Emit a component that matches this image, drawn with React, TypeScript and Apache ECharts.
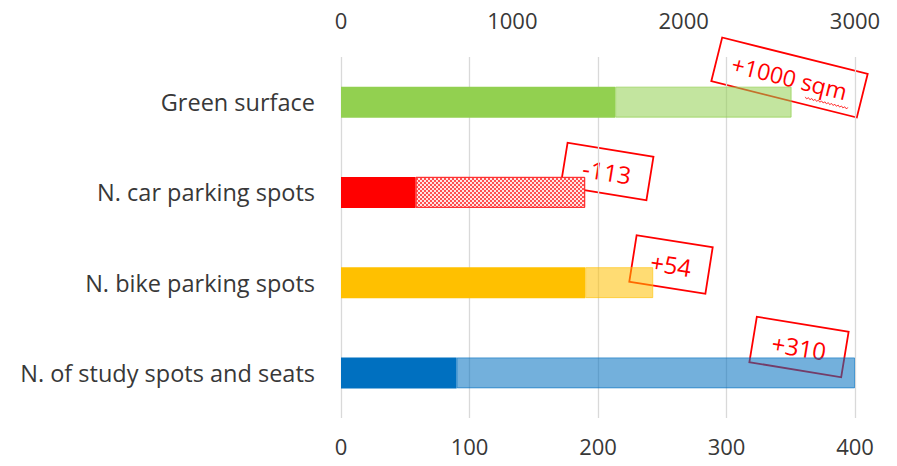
import React, { useEffect, useRef } from "react";
import * as echarts from "echarts";

const categories = [
  "Green surface",
  "N. car parking spots",
  "N. bike parking spots",
  "N. of study spots and seats",
];
// Green surface is read on the top axis (sqm); the others on the bottom axis (count)
const currentValues = [1600, 58, 190, 90];
const changeValues = [1030, 132, 53, 310];
const changeLabels = ["+1000 sqm", "-113", "+54", "+310"];
const usesTopAxis = [true, false, false, false];
const bottomTicks = { min: 0, max: 400, interval: 100 };
const topTicks = { min: 0, max: 3000, interval: 1000 };

const darkColors = ["#92d050", "#ff0000", "#ffc000", "#0070c0"];
const lightColors = [
  "rgba(146,208,80,0.55)",
  null,
  "rgba(255,192,0,0.55)",
  "rgba(0,112,192,0.55)",
];
const lightBorders = [
  "rgba(146,208,80,0.7)",
  "#ff3030",
  "rgba(255,192,0,0.6)",
  "rgba(0,112,192,0.6)",
];

// annotation boxes: center x, center y, angle (deg, clockwise), width, height
const boxes = [
  [789.5, 77.5, 14, 150, 45],
  [607, 171.5, 9.2, 87, 44],
  [671, 264.5, 9, 77, 47],
  [799, 347, 9.3, 93, 46],
];
const boxFontSizes = [23, 24, 24, 24];

const FONT = "'Open Sans', 'Noto Sans', sans-serif";
const TEXT = "#383838";

export default function App() {
  const ref = useRef<HTMLDivElement>(null);
  useEffect(() => {
    if (!ref.current) return;
    const chart = echarts.init(ref.current, null, { renderer: "svg" });

    const baseItem = (i: number, onTop: boolean) =>
      usesTopAxis[i] === onTop
        ? { value: currentValues[i], itemStyle: { color: darkColors[i] } }
        : "-";
    const addItem = (i: number, onTop: boolean) => {
      if (usesTopAxis[i] !== onTop) return "-";
      if (lightColors[i] === null) {
        return {
          value: changeValues[i],
          itemStyle: {
            color: "#ffe6e6",
            borderColor: lightBorders[i],
            borderWidth: 1,
            decal: {
              symbol: "rect",
              symbolSize: 1,
              color: "#ff5050",
              dashArrayX: [
                [2, 2],
                [0, 2, 2, 0],
              ],
              dashArrayY: [2, 0],
            },
          },
        };
      }
      return {
        value: changeValues[i],
        itemStyle: {
          color: lightColors[i],
          borderColor: lightBorders[i],
          borderWidth: 1,
        },
      };
    };

    const idx = categories.map((_, i) => i);

    const graphics: any[] = boxes.map((b, i) => {
      const [cx, cy, ang, w, h] = b;
      const children: any[] = [
        {
          type: "rect",
          shape: { x: -w / 2, y: -h / 2, width: w, height: h },
          style: { fill: "#ffffff", stroke: "#ff0000", lineWidth: 1.8 },
        },
        {
          type: "text",
          x: 0,
          y: 0,
          style: {
            text: changeLabels[i],
            fill: "#ff0000",
            font: `${boxFontSizes[i]}px ${FONT}`,
            align: "center",
            verticalAlign: "middle",
            textAlign: "center",
            textVerticalAlign: "middle",
          },
        },
      ];
      if (i === 0) {
        const pts: number[][] = [];
        for (let k = 0; k <= 26; k++) {
          pts.push([20 + k * 1.7, 15 + (k % 2 === 0 ? 0 : 1.6)]);
        }
        children.push({
          type: "polyline",
          shape: { points: pts },
          style: { stroke: "#ff0000", lineWidth: 0.7, fill: null },
        });
      }
      return {
        type: "group",
        x: cx,
        y: cy,
        rotation: (-ang * Math.PI) / 180,
        z: 100,
        children,
      };
    });

    const plain = (v: number) => String(v);

    chart.setOption({
      animation: false,
      backgroundColor: "#ffffff",
      grid: { left: 341, right: 42, top: 57, bottom: 48 },
      xAxis: [
        {
          type: "value",
          position: "bottom",
          min: bottomTicks.min,
          max: bottomTicks.max,
          interval: bottomTicks.interval,
          axisLine: { show: false },
          axisTick: { show: false },
          splitLine: { show: true, lineStyle: { color: "#d9d9d9", width: 1.3 } },
          axisLabel: {
            color: TEXT,
            fontSize: 22,
            fontFamily: FONT,
            margin: 17,
            formatter: plain,
          },
        },
        {
          type: "value",
          position: "top",
          min: topTicks.min,
          max: topTicks.max,
          interval: topTicks.interval,
          axisLine: { show: false },
          axisTick: { show: false },
          splitLine: { show: false },
          axisLabel: {
            color: TEXT,
            fontSize: 22,
            fontFamily: FONT,
            margin: 26,
            formatter: plain,
          },
        },
      ],
      yAxis: {
        type: "category",
        inverse: true,
        data: categories,
        axisLine: { show: false },
        axisTick: { show: false },
        axisLabel: {
          color: TEXT,
          fontSize: 23.5,
          fontFamily: FONT,
          margin: 26,
        },
      },
      graphic: graphics,
      series: [
        {
          type: "bar",
          name: "current",
          stack: "bottom",
          xAxisIndex: 0,
          barWidth: 31,
          barGap: "-100%",
          data: idx.map((i) => baseItem(i, false)),
        },
        {
          type: "bar",
          name: "change",
          stack: "bottom",
          xAxisIndex: 0,
          barWidth: 31,
          barGap: "-100%",
          data: idx.map((i) => addItem(i, false)),
        },
        {
          type: "bar",
          name: "current sqm",
          stack: "top",
          xAxisIndex: 1,
          barWidth: 31,
          barGap: "-100%",
          data: idx.map((i) => baseItem(i, true)),
        },
        {
          type: "bar",
          name: "change sqm",
          stack: "top",
          xAxisIndex: 1,
          barWidth: 31,
          barGap: "-100%",
          data: idx.map((i) => addItem(i, true)),
        },
      ],
    });
    return () => chart.dispose();
  }, []);
  return (
    <div
      ref={ref}
      style={{ position: "fixed", left: 0, top: 0, width: 897, height: 466 }}
    />
  );
}
